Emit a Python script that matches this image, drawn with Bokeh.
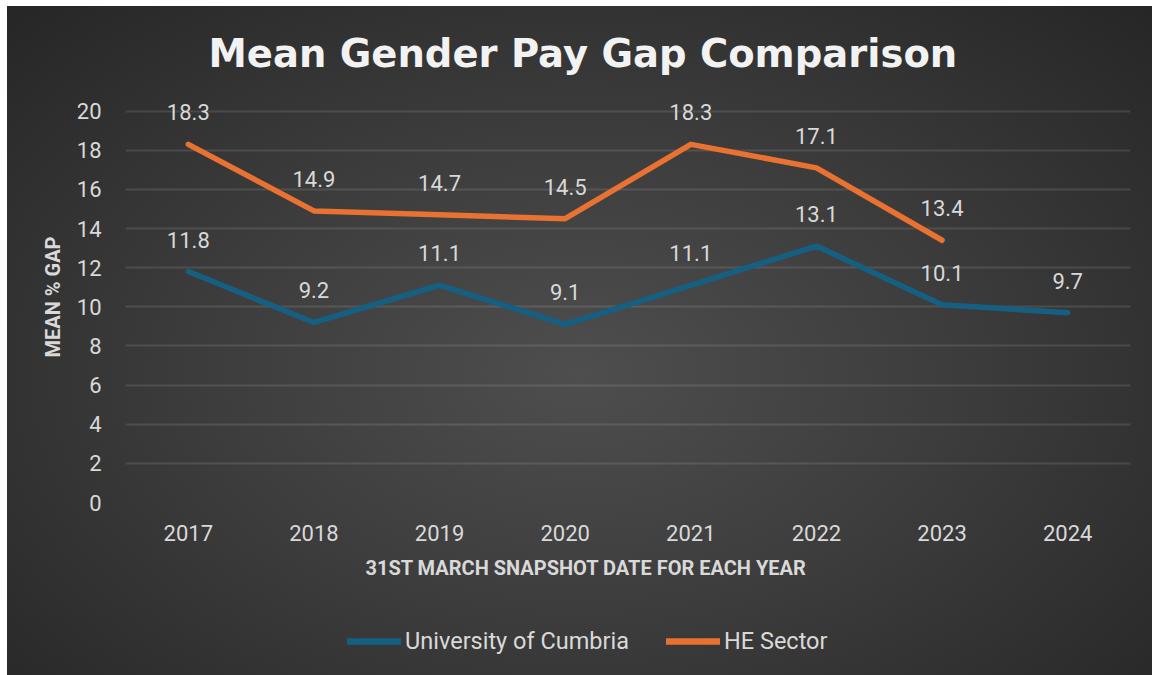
from bokeh.plotting import figure
from bokeh.layouts import column
from bokeh.models import (ColumnDataSource, FactorRange, Range1d, LabelSet, Legend,
                          LegendItem, Title, FixedTicker)
from bokeh.core.properties import value
from bokeh.embed import file_html
from bokeh.resources import INLINE

years = ["2017", "2018", "2019", "2020", "2021", "2022", "2023", "2024"]
cumbria = [11.8, 9.2, 11.1, 9.1, 11.1, 13.1, 10.1, 9.7]
he_years = ["2017", "2018", "2019", "2020", "2021", "2022", "2023"]
he_sector = [18.3, 14.9, 14.7, 14.5, 18.3, 17.1, 13.4]
y_ticks = [0, 2, 4, 6, 8, 10, 12, 14, 16, 18, 20]
series_names = ["University of Cumbria", "HE Sector"]

BLUE = "#156082"
ORANGE = "#E97132"
TXT = "#d9d9d9"
FONT = "Roboto"

p = figure(width=1145, height=600, x_range=FactorRange(factors=years, range_padding=0),
           y_range=Range1d(0, 21), output_backend="svg", toolbar_location=None,
           min_border_left=118, min_border_right=22, min_border_top=85, min_border_bottom=104)
p.border_fill_alpha = 0
p.background_fill_alpha = 0
p.outline_line_color = None

# title
p.title.text = "Mean Gender Pay Gap Comparison"
p.title.text_font = "DejaVu Sans"
p.title.text_font_style = "bold"
p.title.text_font_size = "38.5px"
p.title.text_color = "#f2f2f2"
p.title.align = "left"
p.title.offset = 83
p.title.standoff = 32

# axes
p.yaxis.ticker = FixedTicker(ticks=y_ticks)
for ax in (p.xaxis[0], p.yaxis[0]):
    ax.axis_line_color = None
    ax.major_tick_line_color = None
    ax.minor_tick_line_color = None
    ax.major_label_text_font = FONT
    ax.major_label_text_font_size = "22px"
    ax.major_label_text_color = TXT
p.xaxis.major_label_standoff = 16
p.yaxis.major_label_standoff = 18
p.yaxis.axis_label = "MEAN % GAP"
p.yaxis.axis_label_text_font = FONT
p.yaxis.axis_label_text_font_style = "bold"
p.yaxis.axis_label_text_font_size = "20px"
p.yaxis.axis_label_text_color = TXT
p.yaxis.axis_label_standoff = 9

xlab = Title(text="31ST MARCH SNAPSHOT DATE FOR EACH YEAR", align="left", offset=240,
             text_font=FONT, text_font_style="bold", text_font_size="20px",
             text_color=TXT, standoff=21)
p.add_layout(xlab, "below")

p.xgrid.grid_line_color = None
p.ygrid.grid_line_color = "#ffffff"
p.ygrid.grid_line_alpha = 0.11
p.ygrid.grid_line_width = 2

src_c = ColumnDataSource(dict(x=years, y=cumbria, t=[f"{v:.1f}" for v in cumbria]))
src_h = ColumnDataSource(dict(x=he_years, y=he_sector, t=[f"{v:.1f}" for v in he_sector]))

line_kw = dict(line_width=5.5, line_cap="round", line_join="round")
p.line("x", "y", source=src_c, line_color=BLUE, **line_kw)
p.line("x", "y", source=src_h, line_color=ORANGE, **line_kw)

for src in (src_c, src_h):
    p.add_layout(LabelSet(x="x", y="y", text="t", source=src, y_offset=32,
                          text_align="center", text_baseline="middle",
                          text_font=value(FONT), text_font_size=value("22px"),
                          text_color=TXT))

# legend strip below the chart (series lines fall outside its frame, only the legend shows)
q = figure(width=1145, height=69, x_range=FactorRange(factors=years, range_padding=0),
           y_range=Range1d(0, 1), output_backend="svg", toolbar_location=None,
           x_axis_type=None, y_axis_type=None, min_border=0)
q.border_fill_alpha = 0
q.background_fill_alpha = 0
q.outline_line_color = None
q.xgrid.grid_line_color = None
q.ygrid.grid_line_color = None
leg_kw = dict(line_width=6.5, line_cap="round", line_join="round")
lc = q.line("x", "y", source=src_c, line_color=BLUE, **leg_kw)
lh = q.line("x", "y", source=src_h, line_color=ORANGE, **leg_kw)
legend = Legend(items=[LegendItem(label=series_names[0], renderers=[lc]),
                       LegendItem(label=series_names[1], renderers=[lh])],
                orientation="horizontal", location=(222, 20),
                background_fill_alpha=0, border_line_color=None,
                label_text_font=FONT, label_text_font_size="23.5px", label_text_color=TXT,
                glyph_width=54, glyph_height=22, label_standoff=4, spacing=37,
                padding=5, margin=0)
q.add_layout(legend, "center")

layout = column(p, q, spacing=0)
layout.styles = {"margin-left": "7px", "margin-top": "6px", "width": "1145px", "height": "669px",
                 "background": "radial-gradient(ellipse at 50% 55%, #4e4e4e 0%, #3d3d3d 45%, #262626 100%)"}

open("out.html", "w").write(file_html(layout, INLINE))
